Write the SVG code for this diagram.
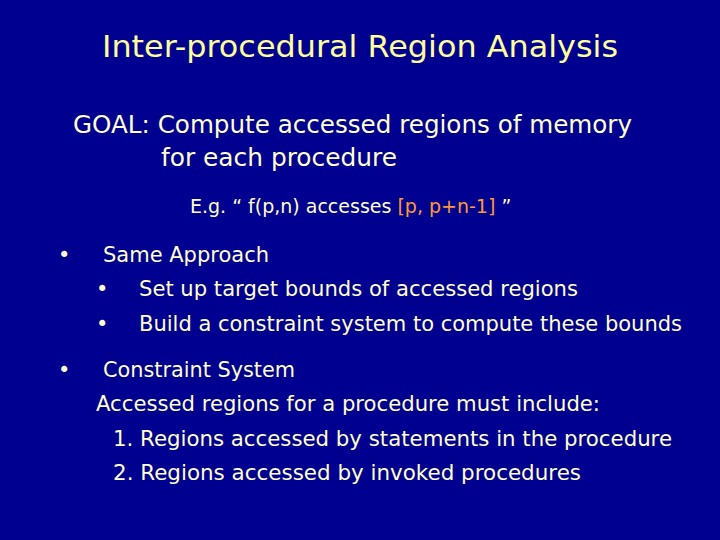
<svg xmlns="http://www.w3.org/2000/svg" width="720" height="540" viewBox="0 0 720 540">
<style>
text{font-family:"DejaVu Sans","Liberation Sans",sans-serif;fill:#ffffcc}
.t{font-size:30px;fill:#ffff99}
.g{font-size:25px}
.b{font-size:21px}
.s{font-size:19px}
.o{fill:#ff9933}
</style>
<rect width="720" height="540" fill="#000090"/>
<text class="t" x="102" y="57" textLength="516" lengthAdjust="spacingAndGlyphs">Inter-procedural Region Analysis</text>
<text class="g" x="73" y="133" textLength="559" lengthAdjust="spacingAndGlyphs">GOAL: Compute accessed regions of memory</text>
<text class="g" x="161" y="166" textLength="236" lengthAdjust="spacingAndGlyphs">for each procedure</text>
<text class="s" x="190" y="213">E.g.  “ f(p,n) accesses <tspan class="o">[p, p+n-1]</tspan> ”</text>
<text class="b" x="58" y="262">•</text>
<text class="b" x="103" y="262" textLength="166" lengthAdjust="spacingAndGlyphs">Same Approach</text>
<text class="b" x="96" y="296">•</text>
<text class="b" x="139" y="296" textLength="439" lengthAdjust="spacingAndGlyphs">Set up target bounds of accessed regions</text>
<text class="b" x="96" y="331">•</text>
<text class="b" x="139" y="331" textLength="543" lengthAdjust="spacingAndGlyphs">Build a constraint system to compute these bounds</text>
<text class="b" x="58" y="377">•</text>
<text class="b" x="103" y="377" textLength="192" lengthAdjust="spacingAndGlyphs">Constraint System</text>
<text class="b" x="96" y="411" textLength="504" lengthAdjust="spacingAndGlyphs">Accessed regions for a procedure must include:</text>
<text class="b" x="113" y="446" textLength="559" lengthAdjust="spacingAndGlyphs">1.  Regions accessed by statements in the procedure</text>
<text class="b" x="113" y="480" textLength="468" lengthAdjust="spacingAndGlyphs">2.  Regions accessed by invoked procedures</text>
</svg>
